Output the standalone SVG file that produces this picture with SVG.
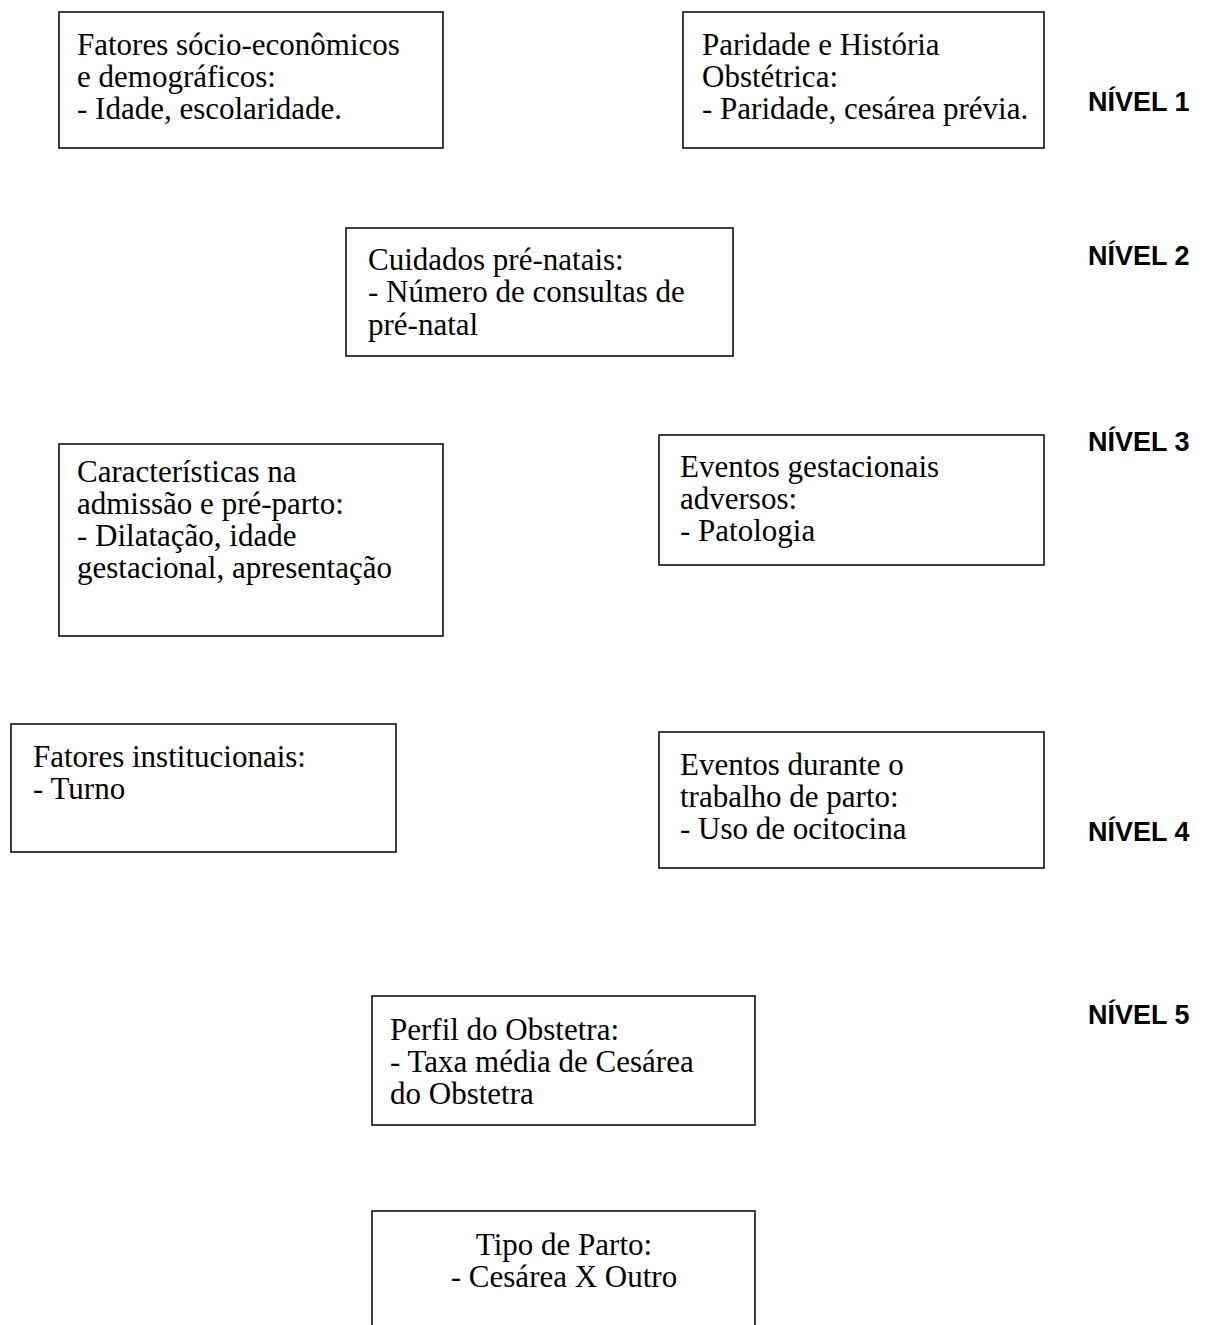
<svg xmlns="http://www.w3.org/2000/svg" width="1225" height="1325" viewBox="0 0 1225 1325">
<style>
.box{fill:#fff;stroke:#000;stroke-width:1.5}
.t{font-family:"Liberation Serif","Times New Roman",serif;font-size:31px;fill:#000}
.lv{font-family:"Liberation Sans",Arial,sans-serif;font-size:27px;font-weight:bold;fill:#000}
</style>
<rect width="1225" height="1325" fill="#fff"/>
<g id="connectors"></g>
<g id="n1">
<rect class="box" x="59" y="12" width="384" height="136"/>
<text class="t" x="77" y="55">Fatores sócio-econômicos</text>
<text class="t" x="77" y="87">e demográficos:</text>
<text class="t" x="77" y="119">- Idade, escolaridade.</text>
</g>
<g id="n2">
<rect class="box" x="683" y="12" width="361" height="136"/>
<text class="t" x="702" y="55">Paridade e História</text>
<text class="t" x="702" y="87">Obstétrica:</text>
<text class="t" x="702" y="119">- Paridade, cesárea prévia.</text>
</g>
<g id="n3">
<rect class="box" x="346" y="228" width="387" height="128"/>
<text class="t" x="368" y="270">Cuidados pré-natais:</text>
<text class="t" x="368" y="302">- Número de consultas de</text>
<text class="t" x="368" y="335">pré-natal</text>
</g>
<g id="n4">
<rect class="box" x="59" y="444" width="384" height="192"/>
<text class="t" x="77" y="482">Características na</text>
<text class="t" x="77" y="514">admissão e pré-parto:</text>
<text class="t" x="77" y="546">- Dilatação, idade</text>
<text class="t" x="77" y="578">gestacional, apresentação</text>
</g>
<g id="n5">
<rect class="box" x="659" y="435" width="385" height="130"/>
<text class="t" x="680" y="477">Eventos gestacionais</text>
<text class="t" x="680" y="509">adversos:</text>
<text class="t" x="680" y="541">- Patologia</text>
</g>
<g id="n6">
<rect class="box" x="11" y="724" width="385" height="128"/>
<text class="t" x="33" y="767">Fatores institucionais:</text>
<text class="t" x="33" y="799">- Turno</text>
</g>
<g id="n7">
<rect class="box" x="659" y="732" width="385" height="136"/>
<text class="t" x="680" y="775">Eventos durante o</text>
<text class="t" x="680" y="807">trabalho de parto:</text>
<text class="t" x="680" y="839">- Uso de ocitocina</text>
</g>
<g id="n8">
<rect class="box" x="372" y="996" width="383" height="129"/>
<text class="t" x="390" y="1040">Perfil do Obstetra:</text>
<text class="t" x="390" y="1072">- Taxa média de Cesárea</text>
<text class="t" x="390" y="1104">do Obstetra</text>
</g>
<g id="n9">
<rect class="box" x="372" y="1211" width="383" height="130"/>
<text class="t" x="564" y="1255" text-anchor="middle">Tipo de Parto:</text>
<text class="t" x="564" y="1287" text-anchor="middle">- Cesárea X Outro</text>
</g>
<g id="levels">
<text class="lv" x="1088" y="111">NÍVEL 1</text>
<text class="lv" x="1088" y="265">NÍVEL 2</text>
<text class="lv" x="1088" y="451">NÍVEL 3</text>
<text class="lv" x="1088" y="841">NÍVEL 4</text>
<text class="lv" x="1088" y="1024">NÍVEL 5</text>
</g>
</svg>
